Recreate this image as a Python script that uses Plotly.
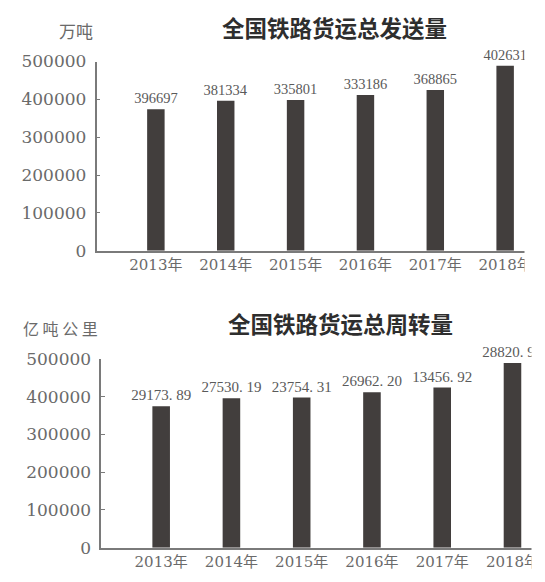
import plotly.graph_objects as go

years = ['2013年', '2014年', '2015年', '2016年', '2017年', '2018年']

# bar heights (the printed labels do not match them)
send_bars = [373700, 396400, 398300, 411500, 424700, 488900]
send_text = ['396697', '381334', '335801', '333186', '368865', '402631']

turn_bars = [374900, 396000, 397800, 411900, 424300, 489500]
turn_text = ['29173. 89', '27530. 19', '23754. 31', '26962. 20', '13456. 92', '28820. 97']

bar_col = '#423e3d'
gray = '#6a6a6a'
serif = 'DejaVu Serif, Noto Sans CJK SC'
W, H = 529, 566   # page body keeps an 8px margin

def px(x, y):
    # reference pixel -> paper coords
    return (x - 8) / W, 1 - (y - 8) / H

fig = go.Figure()
fig.add_trace(go.Bar(x=list(range(6)), y=send_bars, text=send_text, width=0.25,
                     marker=dict(color=bar_col, line=dict(width=0)),
                     textposition='outside', cliponaxis=False, constraintext='none',
                     textfont=dict(family='Liberation Serif', size=14.5, color='#5a5a5a'),
                     xaxis='x', yaxis='y'))
fig.add_trace(go.Bar(x=list(range(6)), y=turn_bars, text=turn_text, width=0.25,
                     marker=dict(color=bar_col, line=dict(width=0)),
                     textposition='outside', cliponaxis=False, constraintext='none',
                     textfont=dict(family='Liberation Serif', size=15, color='#5a5a5a'),
                     xaxis='x2', yaxis='y2'))

def xax(dom, rng, anchor):
    return dict(domain=dom, range=rng, anchor=anchor, tickmode='array',
                tickvals=list(range(6)), ticktext=years, showline=True,
                linecolor='#7a7a7a', linewidth=1.5, ticks='', showgrid=False,
                zeroline=False, automargin=False, ticklabeloverflow='allow',
                tickfont=dict(family=serif, size=15, color=gray))

def yax(dom, anchor):
    return dict(domain=dom, range=[0, 500000], anchor=anchor, tickmode='array',
                tickvals=[0, 100000, 200000, 300000, 400000, 500000], tickformat='d',
                showline=True, linecolor='#7a7a7a', linewidth=1.5, ticks='inside',
                ticklen=4, tickcolor='#7a7a7a', showgrid=False, zeroline=False,
                automargin=False, ticklabelstandoff=5,
                tickfont=dict(family=serif, size=17, color=gray))

fig.update_layout(
    width=W, height=H, margin=dict(l=0, r=0, t=0, b=0, autoexpand=False),
    paper_bgcolor='white', plot_bgcolor='white', showlegend=False,
    xaxis=xax([px(96.5, 0)[0], 1.0], [-0.85, 5.456], 'y'),
    yaxis=yax([px(0, 250.7)[1], px(0, 61.5)[1]], 'x'),
    xaxis2=xax([px(101.3, 0)[0], 1.0], [-0.852, 5.349], 'y2'),
    yaxis2=yax([px(0, 547.7)[1], px(0, 359)[1]], 'x2'),
)

# the source picture is cut off at the right edge
fig.add_shape(type='rect', xref='paper', yref='paper', x0=px(524.5, 0)[0], x1=1, y0=0.5, y1=1,
              fillcolor='white', line=dict(width=0), layer='above')
fig.add_shape(type='rect', xref='paper', yref='paper', x0=px(531.5, 0)[0], x1=1, y0=0, y1=0.5,
              fillcolor='white', line=dict(width=0), layer='above')

def note(txt, x, y, size, color, family='Noto Sans CJK SC'):
    ax, ay = px(x, y)
    fig.add_annotation(text=txt, x=ax, y=ay, xref='paper', yref='paper', xanchor='center',
                       yanchor='middle', showarrow=False,
                       font=dict(family=family, size=size, color=color))

note('<b>全国铁路货运总发送量</b>', 334, 27, 22.5, '#2e2e2e')
note('<b>全国铁路货运总周转量</b>', 340, 323, 22.5, '#2e2e2e')
note('万吨', 76, 31, 17, gray)
note('亿 吨 公 里', 60, 328, 16, gray)

fig.write_html("out.html")
